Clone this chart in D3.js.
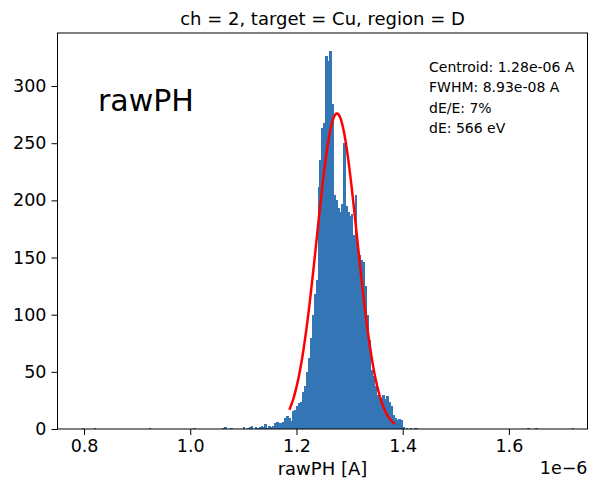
<!DOCTYPE html>
<html>
<head>
<meta charset="utf-8">
<script src="https://cdn.jsdelivr.net/npm/d3@7"></script>
<style>
  body { margin: 0; background: #fff; }
  text { font-family: "DejaVu Sans", sans-serif; fill: #000; }
</style>
</head>
<body>
<svg></svg>
<script>
let title = 'ch = 2, target = Cu, region = D'
let xLabel = 'rawPH [A]'
let offsetLabel = '1e\u22126'
let panelLabel = 'rawPH'
let infoLines = ['Centroid: 1.28e-06 A', 'FWHM: 8.93e-08 A', 'dE/E: 7%', 'dE: 566 eV']

// histogram, x in units of 1e-6 A
let binWidth = 0.0037
let coreStart = 1.099
let coreCounts = [
  2, 0, 1, 2, 3, 0, 2, 1, 2, 3,
  2, 4, 1, 3, 2, 3, 5, 6, 5, 5,
  6, 10, 11, 10, 7, 16, 17, 20, 23, 24,
  32, 38, 50, 62, 80, 100, 118, 130, 212, 235,
  263, 268, 326, 322, 331, 284, 205, 200, 193, 190,
  197, 250, 195, 190, 186, 188, 170, 205, 160, 152,
  148, 146, 125, 100, 78, 52, 46, 38, 30, 28,
  27, 30, 26, 29, 24, 20, 12, 10, 8, 9,
  8, 2, 0, 1, 0, 1, 0, 1, 1, 0
]
// isolated bins far from the peak (left edge, count)
let strayEdges = [0.796, 0.818, 0.922, 1.006, 1.060, 1.064, 1.075, 1.635, 1.650, 1.718]
let strayCounts = [1, 1, 1, 1, 1, 2, 1, 1, 1, 1]

// gaussian fit
let fitCentroid = 1.2762
let fitFwhm = 0.0893
let fitAmp = 276
let fitRange = [1.1866, 1.3855]

let xTicks = [0.8, 1.0, 1.2, 1.4, 1.6]
let yTicks = [0, 50, 100, 150, 200, 250, 300]

let width = 589
let height = 480
let padLeft = 57.5, padRight = 587.5, padTop = 33, padBottom = 429

let svg = d3.select('svg').attr('width', width).attr('height', height)

let bins = coreCounts.map((c, i) => ({x0: coreStart + i * binWidth, n: c}))
strayEdges.forEach((e, i) => bins.push({x0: e, n: strayCounts[i]}))
bins = bins.filter(d => d.n > 0)

let xScale = d3.scaleLinear().domain([0.750, 1.748]).range([padLeft, padRight])
let yScale = d3.scaleLinear().domain([0, 346.4]).range([padBottom, padTop])

// crisp edges + a little overlap so neighbouring bars don't show seams
svg.append('g')
   .attr('shape-rendering', 'crispEdges')
   .selectAll('rect')
   .data(bins)
   .enter()
   .append('rect')
   .attr('x', d => xScale(d.x0))
   .attr('width', d => xScale(d.x0 + binWidth) - xScale(d.x0) + 0.6)
   .attr('y', d => yScale(d.n))
   .attr('height', d => yScale(0) - yScale(d.n))
   .attr('fill', '#3375b5')

let sigma = fitFwhm / (2 * Math.sqrt(2 * Math.LN2))
let fitPts = d3.range(fitRange[0], fitRange[1], 0.001).concat([fitRange[1]])
               .map(x => [x, fitAmp * Math.exp(-0.5 * Math.pow((x - fitCentroid) / sigma, 2))])

svg.append('path')
   .datum(fitPts)
   .attr('d', d3.line().x(d => xScale(d[0])).y(d => yScale(d[1])))
   .attr('fill', 'none')
   .attr('stroke', '#ff0000')
   .attr('stroke-width', 2.5)

let xAxis = d3.axisBottom(xScale).tickValues(xTicks).tickFormat(d3.format('.1f')).tickSize(6).tickPadding(5)
let yAxis = d3.axisLeft(yScale).tickValues(yTicks).tickFormat(d3.format('d')).tickSize(6).tickPadding(5)

let gx = svg.append('g')
   .attr('transform', 'translate(0,' + padBottom + ')')
   .call(xAxis)
let gy = svg.append('g')
   .attr('transform', 'translate(' + padLeft + ',0)')
   .call(yAxis)

;[gx, gy].forEach(g => {
  g.select('.domain').remove()
  g.selectAll('text').style('font-size', '17.5px').attr('fill', '#000')
  g.selectAll('line').attr('stroke', '#000').attr('stroke-width', 1)
})

svg.append('rect')
   .attr('x', padLeft).attr('y', padTop)
   .attr('width', padRight - padLeft).attr('height', padBottom - padTop)
   .attr('fill', 'none').attr('stroke', '#000').attr('stroke-width', 1)

svg.append('text')
   .attr('x', (padLeft + padRight) / 2).attr('y', 25)
   .attr('text-anchor', 'middle')
   .style('font-size', '18px')
   .text(title)

svg.append('text')
   .attr('x', (padLeft + padRight) / 2).attr('y', 475)
   .attr('text-anchor', 'middle')
   .style('font-size', '18px')
   .text(xLabel)

svg.append('text')
   .attr('x', padRight).attr('y', 474)
   .attr('text-anchor', 'end')
   .style('font-size', '17.5px')
   .text(offsetLabel)

svg.append('text')
   .attr('x', 98).attr('y', 111)
   .style('font-size', '30px')
   .text(panelLabel)

svg.append('g')
   .selectAll('text')
   .data(infoLines)
   .enter()
   .append('text')
   .attr('x', 429)
   .attr('y', (d, i) => 72 + i * 20.3)
   .style('font-size', '14px')
   .text(d => d)
</script>
</body>
</html>
